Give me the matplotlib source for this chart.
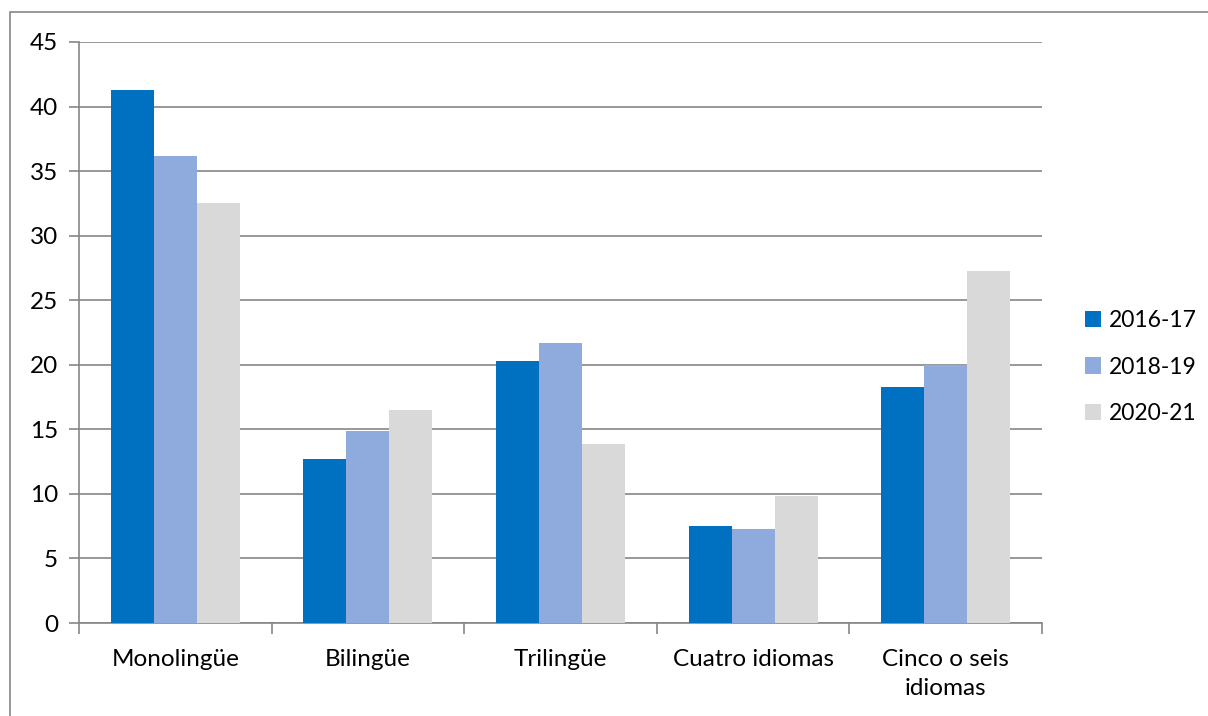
import numpy as np
import matplotlib.pyplot as plt
from matplotlib.patches import Rectangle

categories = ["Monolingüe", "Bilingüe", "Trilingüe", "Cuatro idiomas", "Cinco o seis\nidiomas"]
series = ["2016-17", "2018-19", "2020-21"]
v2016 = [41.3, 12.7, 20.3, 7.5, 18.3]
v2018 = [36.2, 14.9, 21.7, 7.25, 20.0]
v2020 = [32.5, 16.5, 13.9, 9.8, 27.3]
yticks = [0, 5, 10, 15, 20, 25, 30, 35, 40, 45]

COLORS = ["#0070C0", "#8FAADC", "#D9D9D9"]
GRID = "#868686"
FS = 17.5

plt.rcParams["font.family"] = ["Lato", "DejaVu Sans"]

W, H = 1208, 716
fig = plt.figure(figsize=(W / 100, H / 100), dpi=100)
ax = fig.add_axes([79 / W, 1 - 623 / H, (1042 - 79) / W, (623 - 42) / H])

# outer chart border
fig.patches.append(Rectangle((10 / W, -0.1), 1.2, 1 - 12 / H + 0.1, transform=fig.transFigure,
                             fill=False, edgecolor=GRID, linewidth=1.2))

x = np.arange(len(categories))
bw = 0.223
for i, (vals, lab) in enumerate(zip([v2016, v2018, v2020], series)):
    ax.bar(x + (i - 1) * bw, vals, bw, color=COLORS[i], label=lab, zorder=3)

ax.set_xlim(-0.5, len(categories) - 0.5)
ax.set_ylim(0, 45)
ax.set_yticks(yticks)
ax.yaxis.grid(True, color=GRID, linewidth=1.2, zorder=0)
ax.tick_params(axis="y", length=7, color=GRID, width=1.2, labelsize=FS, pad=8)

# category boundary ticks on x axis
ax.set_xticks(np.arange(len(categories) + 1) - 0.5, minor=False)
ax.set_xticklabels([""] * (len(categories) + 1))
ax.tick_params(axis="x", length=8, color=GRID, width=1.2, direction="out")
ax.set_xticks(x, minor=True)
ax.set_xticklabels(categories, minor=True, fontsize=FS)
ax.tick_params(axis="x", which="minor", length=0, pad=19)
for t in ax.get_xticklabels(minor=True):
    t.set_linespacing(1.45)
    t.set_verticalalignment("top")

for s in ["top", "right"]:
    ax.spines[s].set_visible(False)
for s in ["left", "bottom"]:
    ax.spines[s].set_color(GRID)
    ax.spines[s].set_linewidth(1.2)

leg = fig.legend(loc="center left", bbox_to_anchor=(1064 / W, 1 - 367 / H), frameon=False,
                 fontsize=16.5, handlelength=0.7, handleheight=0.7, handletextpad=0.35,
                 labelspacing=1.1)

fig.savefig("out.png", dpi=100)
